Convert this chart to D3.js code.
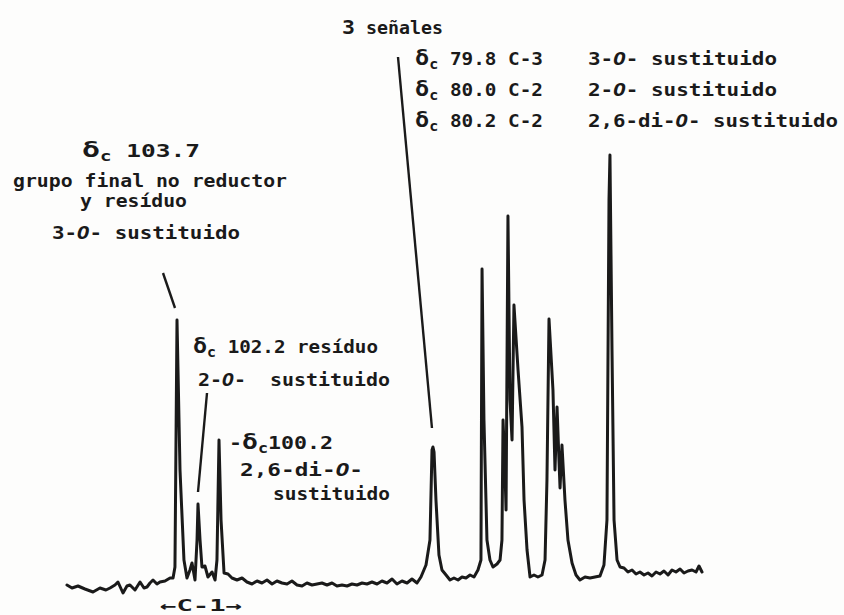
<!DOCTYPE html>
<html>
<head>
<meta charset="utf-8">
<script src="https://cdn.jsdelivr.net/npm/d3@7"></script>
<style>
body { margin: 0; background: #fdfdfc; }
text { font-family: "DejaVu Sans Mono", monospace; font-weight: bold; fill: #1a1a1a; font-size: 18px; white-space: pre; }
</style>
</head>
<body>
<div id="spectrum"></div>
<script>
// 13C trace: chemical shift (ppm, approx.) and relative intensity
const shift = [
  112.87, 112.45, 111.95, 111.37, 110.70, 110.12, 109.62, 109.28, 108.87, 108.62,
  108.20, 107.87, 107.62, 107.20, 106.78, 106.45, 106.20, 105.95, 105.70, 105.37,
  105.12, 104.70, 104.28, 104.03, 103.87, 103.70, 103.45, 103.12, 102.87, 102.62,
  102.45, 102.20, 102.03, 101.95, 101.78, 101.62, 101.37, 101.12, 100.78, 100.53,
  100.37, 100.20, 100.03, 99.78, 99.45, 99.12, 98.70, 98.28, 97.87, 97.45,
  97.03, 96.62, 96.20, 95.78, 95.37, 94.95, 94.53, 94.12, 93.70, 93.28,
  92.87, 92.45, 92.03, 91.62, 91.20, 90.78, 90.37, 89.95, 89.53, 89.12,
  88.70, 88.28, 87.87, 87.45, 87.03, 86.62, 86.20, 85.78, 85.37, 84.95,
  84.53, 84.12, 83.70, 83.37, 82.95, 82.62, 82.45, 82.37, 82.28, 82.12,
  81.87, 81.62, 81.28, 80.95, 80.62, 80.28, 79.95, 79.62, 79.28, 78.95,
  78.62, 78.37, 78.28, 78.12, 77.87, 77.62, 77.37, 77.03, 76.78, 76.62,
  76.53, 76.37, 76.28, 76.12, 75.95, 75.78, 75.62, 75.28, 74.95, 74.78,
  74.53, 74.28, 73.95, 73.62, 73.28, 73.03, 72.87, 72.70, 72.37, 72.20,
  72.03, 71.87, 71.78, 71.62, 71.37, 71.12, 70.78, 70.45, 70.12, 69.70,
  69.28, 68.87, 68.45, 68.12, 67.87, 67.70, 67.62, 67.45, 67.28, 67.03,
  66.78, 66.45, 66.12, 65.78, 65.45, 65.12, 64.78, 64.45, 64.12, 63.78,
  63.45, 63.12, 62.78, 62.45, 62.12, 61.78, 61.45, 61.12, 60.78, 60.45,
  60.20, 59.95
];
const intensity = [
  -1.75, -2.5, -2, -2.75, -3.5, -2.5, -3, -2.5, -1.75, -1,
  -3.75, -2, -1.75, -3, -1, -2.5, -2.25, -1.25, -0.5, -1.5,
  -1, -0.75, 0, 0, 2.75, 64.5, 27, 4.5, 0, 2,
  3.75, -0.5, 9.5, 18.5, 9.5, 2.75, 3, 0.25, 1.5, -0.5,
  4.5, 34.5, 14.5, 1.25, 1, 0, -0.5, 0, -1, -1.5,
  -0.75, -1.25, -0.5, -1.5, -0.75, -1.25, -1.5, -0.75, -1.75, -2,
  -1.25, -1.75, -1.5, -1.25, -1.75, -1.25, -2, -1.75, -2, -1.5,
  -1.75, -1.25, -1.5, -1, -1.5, -0.75, -1.25, -0.25, -1.5, -0.75,
  -1.25, -0.25, -1.25, 0.25, 3.25, 9.5, 32, 32.75, 31.5, 19.5,
  5.75, 2, 0.75, -0.5, 0, -0.5, 0.25, 0, 0.75, 0.25,
  2, 4.5, 77.25, 39.5, 9.5, 4.5, 2.75, 3.5, 4.5, 9.5,
  39.5, 27, 17, 90.5, 44.5, 34.5, 68.25, 52, 37.75, 19.5,
  7, 0.25, 0.75, 0.25, 0.75, 4.5, 24.5, 64.75, 47, 27,
  42.75, 29.5, 22.5, 33.25, 19.5, 9.5, 3.75, 0.75, -0.5, 0.25,
  0, 0.25, 0.5, 3.25, 14.5, 94.5, 105.75, 57, 14.5, 4.5,
  2.75, 2.5, 1.5, 2, 1, 1.5, 0.75, 1.25, 0.5, 1.5,
  1, 1.75, 0.75, 2, 1.5, 2.25, 1.25, 1.75, 2, 1.5,
  3, 1.5
];

// peaks that carry a leader line
const peakShift = [103.70, 101.95, 82.37];
const peakIntensity = [64.5, 18.5, 32.75];

const width = 844, height = 615;

const svg = d3.select("#spectrum")
  .append("svg")
  .attr("width", width)
  .attr("height", height);

const x = d3.scaleLinear().domain([113, 60]).range([65.4, 701.4]);
const y = d3.scaleLinear().domain([0, 100]).range([578, 178]);

const line = d3.line()
  .x(function(d, i) { return x(shift[i]); })
  .y(function(d) { return y(d); });

svg.append("path")
  .datum(intensity)
  .attr("d", line)
  .attr("fill", "none")
  .attr("stroke", "#1a1a1a")
  .attr("stroke-width", 3)
  .attr("stroke-linejoin", "round")
  .attr("stroke-linecap", "round");

// leader lines from the notes down to their peaks
const leaderStart = [[163, 273], [207, 393], [398, 57]];
const leaderGap = [[-2, 12], [0, 12], [-1, 19]];
svg.selectAll(".leader")
  .data(peakShift)
  .enter().append("line")
  .attr("class", "leader")
  .attr("x1", function(d, i) { return leaderStart[i][0]; })
  .attr("y1", function(d, i) { return leaderStart[i][1]; })
  .attr("x2", function(d, i) { return x(d) + leaderGap[i][0]; })
  .attr("y2", function(d, i) { return y(peakIntensity[i]) - leaderGap[i][1]; })
  .attr("stroke", "#1a1a1a")
  .attr("stroke-width", 2.4);

function label(px, py, len, parts) {
  const t = svg.append("text")
    .attr("x", px)
    .attr("y", py)
    .attr("textLength", len)
    .attr("lengthAdjust", "spacingAndGlyphs");
  parts.forEach(function(p) {
    const s = t.append("tspan").text(p.t);
    if (p.size) s.style("font-size", p.size + "px");
    if (p.dy) s.attr("dy", p.dy);
    if (p.it) s.style("font-style", "italic");
  });
}

function delta(rest) {
  return [{ t: "δ", size: 22 }, { t: "c", size: 14, dy: 4 }, { t: rest, size: 18, dy: -4 }];
}

// left notes
label(82, 157, 118, delta(" 103.7"));
label(13, 187, 274, [{ t: "grupo final no reductor" }]);
label(80, 207, 107, [{ t: "y resíduo" }]);
label(52, 239, 188, [{ t: "3-" }, { t: "O", it: true }, { t: "- sustituido" }]);

label(193, 353, 185, delta(" 102.2 resíduo"));
label(198, 386, 192, [{ t: "2-" }, { t: "O", it: true }, { t: "-  sustituido" }]);
label(229, 449, 104, [{ t: "-" }].concat(delta("100.2")));
label(240, 476, 123, [{ t: "2,6-di-" }, { t: "O", it: true }, { t: "-" }]);
label(273, 500, 117, [{ t: "sustituido" }]);
label(160, 611, 82, [{ t: "←C-1→", size: 16 }]);

// top notes
label(342, 34, 101, [{ t: "3", size: 20 }, { t: " señales", size: 17 }]);
label(415, 65, 128, delta(" 79.8 C-3"));
label(415, 96, 128, delta(" 80.0 C-2"));
label(415, 127, 128, delta(" 80.2 C-2"));
label(588, 65, 189, [{ t: "3-" }, { t: "O", it: true }, { t: "- sustituido" }]);
label(588, 96, 189, [{ t: "2-" }, { t: "O", it: true }, { t: "- sustituido" }]);
label(588, 127, 250, [{ t: "2,6-di-" }, { t: "O", it: true }, { t: "- sustituido" }]);
</script>
</body>
</html>
